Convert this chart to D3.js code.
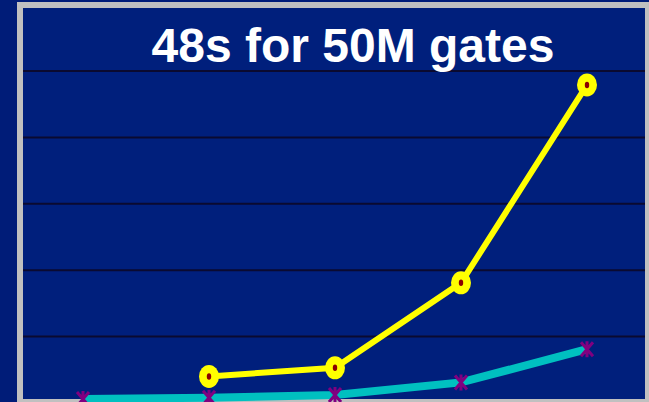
<!DOCTYPE html>
<html>
<head>
<meta charset="utf-8">
<script src="https://cdn.jsdelivr.net/npm/d3@7"></script>
<style>
  html, body { margin: 0; padding: 0; background: #001c78; }
  svg { display: block; }
</style>
</head>
<body>
<script>
// chart values (seconds)
let categories = ["1M", "5M", "10M", "25M", "50M"];
let yellowValues = [null, 4.0, 5.3, 18.1, 47.9];
let cyanValues = [0.6, 0.8, 1.2, 3.1, 8.1];
let yTicks = [10, 20, 30, 40, 50];
let title = "48s for 50M gates";

let w = 649;
let h = 402;

let svg = d3.select("body")
    .append("svg")
    .attr("width", w)
    .attr("height", h);

svg.append("rect")
    .attr("width", w)
    .attr("height", h)
    .attr("fill", "#001c78");

let xScale = d3.scalePoint()
    .domain(categories)
    .range([20, 650])
    .padding(0.5);

let yScale = d3.scaleLinear()
    .domain([0, 60])
    .range([403, 4.6]);

// frame
svg.append("rect")
    .attr("x", 20)
    .attr("y", 5)
    .attr("width", 628)
    .attr("height", 397)
    .attr("fill", "#001f7c")
    .attr("stroke", "#c0c0c0")
    .attr("stroke-width", 6);

// gridlines
svg.selectAll("line.grid")
    .data(yTicks)
    .enter()
    .append("line")
    .attr("class", "grid")
    .attr("x1", 23)
    .attr("x2", 645)
    .attr("y1", d => yScale(d))
    .attr("y2", d => yScale(d))
    .attr("stroke", "#0a0a30")
    .attr("stroke-width", 2);

svg.append("text")
    .attr("x", 353)
    .attr("y", 62)
    .attr("text-anchor", "middle")
    .attr("font-family", "Liberation Sans, Arial, sans-serif")
    .attr("font-weight", "bold")
    .attr("font-size", "48px")
    .attr("fill", "#ffffff")
    .text(title);

let line = d3.line()
    .defined(d => d.v != null)
    .x(d => xScale(d.c))
    .y(d => yScale(d.v));

let cyanData = categories.map((c, i) => ({ c: c, v: cyanValues[i] }));
let yellowData = categories.map((c, i) => ({ c: c, v: yellowValues[i] }));

svg.append("path")
    .datum(cyanData)
    .attr("d", line)
    .attr("fill", "none")
    .attr("stroke", "#00c0c0")
    .attr("stroke-width", 8);

// purple asterisk-like markers
let marks = svg.selectAll("g.xmark")
    .data(cyanData)
    .enter()
    .append("g")
    .attr("class", "xmark")
    .attr("transform", d => "translate(" + xScale(d.c) + "," + yScale(d.v) + ")");

marks.append("path")
    .attr("d", "M-6,-7L6,7M6,-7L-6,7M0,-8L0,8")
    .attr("stroke", "#800080")
    .attr("stroke-width", 3)
    .attr("fill", "none");

svg.append("path")
    .datum(yellowData)
    .attr("d", line)
    .attr("fill", "none")
    .attr("stroke", "#ffff00")
    .attr("stroke-width", 6);

let dots = svg.selectAll("g.ydot")
    .data(yellowData.filter(d => d.v != null))
    .enter()
    .append("g")
    .attr("class", "ydot")
    .attr("transform", d => "translate(" + xScale(d.c) + "," + yScale(d.v) + ")");

dots.append("ellipse")
    .attr("rx", 10)
    .attr("ry", 11.5)
    .attr("fill", "#ffff00");

dots.append("ellipse")
    .attr("rx", 2.2)
    .attr("ry", 3.2)
    .attr("fill", "#8b0000");
</script>
</body>
</html>
